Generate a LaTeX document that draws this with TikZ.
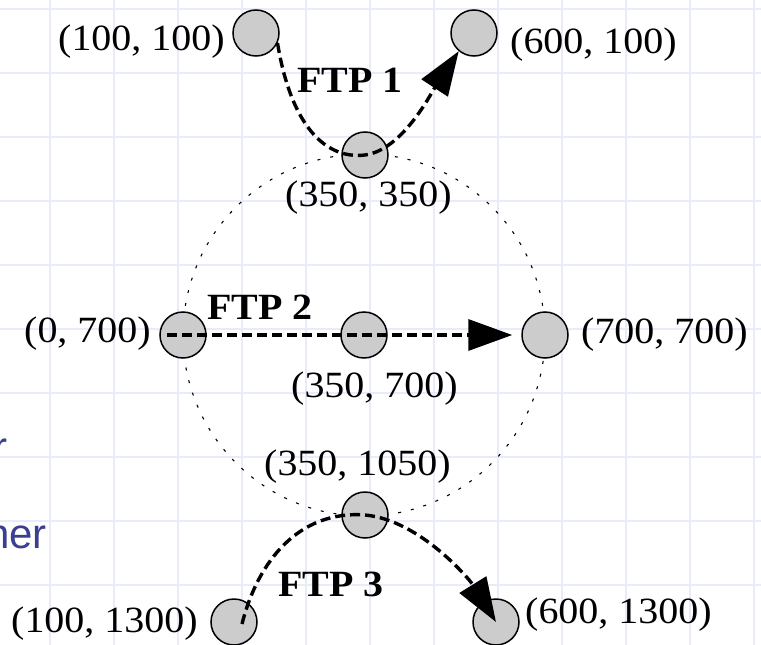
\documentclass[tikz,border=0pt]{standalone}
\usepackage{graphicx}
\usepackage{fontspec}
\setmainfont{Liberation Serif}
\newfontfamily\slidesans{Liberation Sans}
\usetikzlibrary{arrows.meta,calc}

\definecolor{gridline}{RGB}{232,236,250}
\definecolor{slidetext}{RGB}{58,63,145}
\definecolor{hostfill}{RGB}{204,204,204}

% labels are set slightly wide
\newcommand\widelabel[1]{\scalebox{1.08}[1]{#1}}

\begin{document}
\begin{tikzpicture}[x=1pt,y=-1pt,
  host/.style={circle,draw=black,line width=1.5pt,fill=hostfill,
               minimum size=46pt,inner sep=0pt},
  coordlabel/.style={anchor=base west,inner sep=0pt,
               font=\fontsize{37}{40}\selectfont},
  ftplabel/.style={anchor=base west,inner sep=0pt,
               font=\fontsize{37}{40}\selectfont\bfseries},
  transfer/.style={line width=3.4pt,dash pattern=on 10pt off 5pt,
               -{Triangle[length=44pt,width=31pt]}},
  ring/.style={line width=1.1pt,dash pattern=on 3pt off 10pt},
  gridrule/.style={gridline,line width=2pt},
  slideword/.style={inner sep=0pt,text=slidetext,
               font=\slidesans\fontsize{42}{44}\selectfont}]

\useasboundingbox (0,0) rectangle (761,645);
\clip (0,0) rectangle (761,645);

% background grid
\foreach \gx in {50,114,...,754} \draw[gridrule] (\gx,0) -- (\gx,645);
\foreach \gy in {9,73,...,649} \draw[gridrule] (0,\gy) -- (761,\gy);

% words of the slide text running off the left edge
\node[slideword,anchor=base west] (wordA) at (-7,461) {r};
\node[slideword,anchor=base east] (wordB) at (47,548) {her};

% ring through the relay hosts
\coordinate (ringc) at (364,335);
\draw[ring] (ringc) circle[radius=181];

% hosts
\node[host] (h1) at (256,33)  {};
\node[host] (h2) at (474,33)  {};
\node[host] (h3) at (365,155) {};
\node[host] (h4) at (183,335) {};
\node[host] (h5) at (364,335) {};
\node[host] (h6) at (545,335) {};
\node[host] (h7) at (365,515) {};
\node[host] (h8) at (234,622) {};
\node[host] (h9) at (496,622) {};

% coordinate labels
\node[coordlabel] (t1) at (58,50)   {\widelabel{(100, 100)}};
\node[coordlabel] (t2) at (510,53)  {\widelabel{(600, 100)}};
\node[coordlabel] (t3) at (285,206) {\widelabel{(350, 350)}};
\node[coordlabel] (t4) at (24,342)  {\widelabel{(0, 700)}};
\node[coordlabel] (t5) at (581,343) {\widelabel{(700, 700)}};
\node[coordlabel] (t6) at (291,397) {\widelabel{(350, 700)}};
\node[coordlabel] (t7) at (264,475) {\widelabel{(350, 1050)}};
\node[coordlabel] (t8) at (11,632)  {\widelabel{(100, 1300)}};
\node[coordlabel] (t9) at (525,623) {\widelabel{(600, 1300)}};

% transfer labels
\node[ftplabel] (f1) at (297,92)  {\widelabel{FTP 1}};
\node[ftplabel] (f2) at (207,319) {\widelabel{FTP 2}};
\node[ftplabel] (f3) at (278,596) {\widelabel{FTP 3}};

% transfers
\draw[transfer] (h1.-25) .. controls (290,120) and (322,160) .. (h3.center)
                         .. controls (402,150) and (430,95) .. (h2.230);
\draw[transfer,shorten <=8pt,shorten >=9pt] (h4.west) -- (h6.west);
\draw[transfer] ($(h8.center)+(8,2)$) .. controls (258,560) and (300,510) .. (h7.center)
                         .. controls (420,520) and (470,580) .. (h9.center);

\end{tikzpicture}
\end{document}
